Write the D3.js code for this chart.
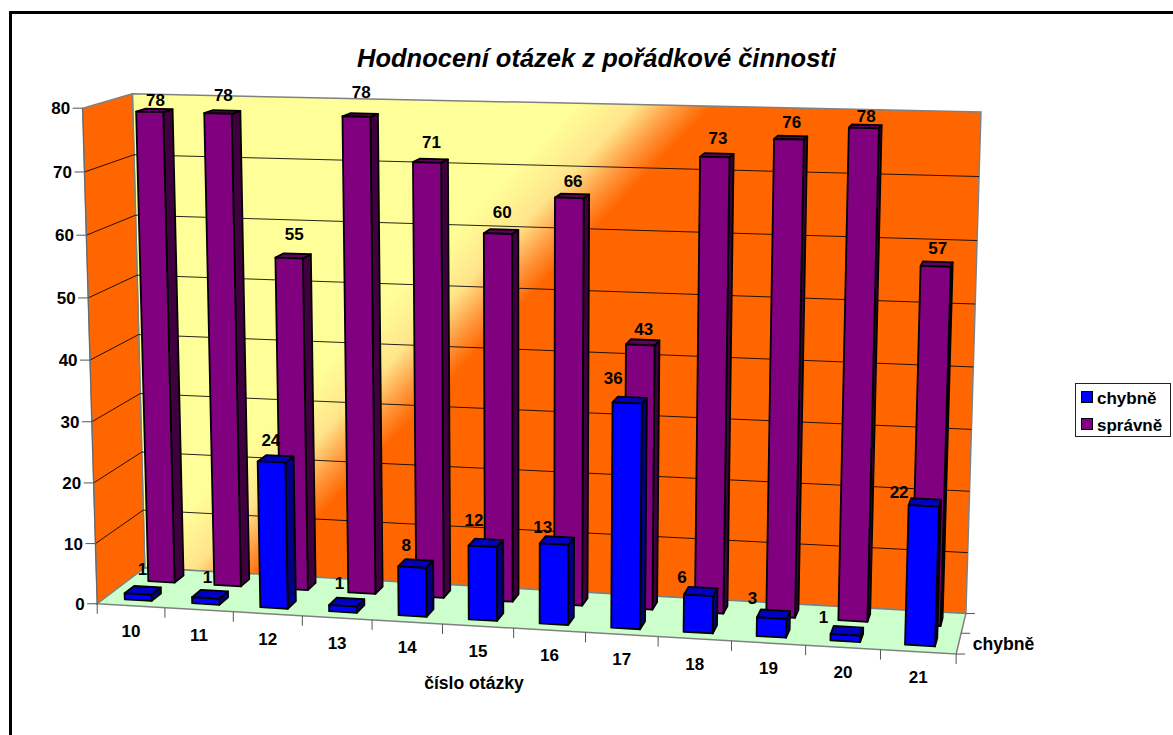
<!DOCTYPE html>
<html>
<head>
<meta charset="utf-8">
<script src="https://cdn.jsdelivr.net/npm/d3@7"></script>
<style>
  html, body { margin: 0; background: #fff; }
  svg { display: block; font-family: "Liberation Sans", Arial, sans-serif; font-weight: bold; }
</style>
</head>
<body>
<div id="chart"></div>
<script>
const categories = ["10", "11", "12", "13", "14", "15", "16", "17", "18", "19", "20", "21"];
const seriesNames = ["chybně", "správně"];
const chybne = [1, 1, 24, 1, 8, 12, 13, 36, 6, 3, 1, 22];
const spravne = [78, 78, 55, 78, 71, 60, 66, 43, 73, 76, 78, 57];
const valueTicks = [0, 10, 20, 30, 40, 50, 60, 70, 80];

// excel moves the data labels around a bit, vertical nudge per label
const nudgeChybne = [-4, 0, -2, -2, -2, -6, 4, -5, 3, 1, 3, 7];
const nudgeSpravne = [7, 0, -5, -6, -2, -3, 2, 4, 0, 1, 7, 1];

const width = 1173;
const height = 735;

// corners of the 3d box on screen: [u, v, w] -> [px, py]
const boxCorners = [
  [[0, 0, 0], [97, 603.5]],
  [[1, 0, 0], [956, 654.5]],
  [[0, 0, 1], [145, 568]],
  [[1, 0, 1], [966, 613]],
  [[0, 1, 0], [83, 108]],
  [[0, 1, 1], [132, 94]],
  [[1, 1, 1], [981, 112]]
];

function solve(A, b) {
  const n = b.length;
  const M = A.map((r, i) => [...r, b[i]]);
  for (let c = 0; c < n; c++) {
    let best = c;
    for (let r = c + 1; r < n; r++) if (Math.abs(M[r][c]) > Math.abs(M[best][c])) best = r;
    [M[c], M[best]] = [M[best], M[c]];
    for (let r = 0; r < n; r++) {
      if (r === c) continue;
      const f = M[r][c] / M[c][c];
      for (let k = c; k <= n; k++) M[r][k] -= f * M[c][k];
    }
  }
  return M.map((r, i) => r[n] / r[i]);
}

// least squares fit of the camera matrix
function fitCamera(pairs) {
  const rows = [], rhs = [];
  for (const [[u, v, w], [px, py]] of pairs) {
    rows.push([u, v, w, 1, 0, 0, 0, 0, -px * u, -px * v, -px * w]); rhs.push(px);
    rows.push([0, 0, 0, 0, u, v, w, 1, -py * u, -py * v, -py * w]); rhs.push(py);
  }
  const n = 11;
  const AtA = d3.range(n).map(i => d3.range(n).map(j => d3.sum(rows, r => r[i] * r[j])));
  const Atb = d3.range(n).map(i => d3.sum(rows, (r, k) => r[i] * rhs[k]));
  return solve(AtA, Atb);
}

const cam = fitCamera(boxCorners);
function project(u, v, w) {
  const d = cam[8] * u + cam[9] * v + cam[10] * w + 1;
  return [
    (cam[0] * u + cam[1] * v + cam[2] * w + cam[3]) / d,
    (cam[4] * u + cam[5] * v + cam[6] * w + cam[7]) / d
  ];
}

const x = d3.scaleBand().domain(categories).range([0, 1]).paddingInner(0.6).paddingOuter(0.3);
const z = d3.scaleBand().domain(seriesNames).range([0, 1]).paddingInner(0.6).paddingOuter(0.3);
const y = d3.scaleLinear().domain([0, 80]).range([0, 1]);

const face = pts => d3.line()(pts.map(p => project(...p))) + "Z";

const svg = d3.select("#chart").append("svg").attr("width", width).attr("height", height);

const defs = svg.append("defs");
const grad = defs.append("linearGradient").attr("id", "wallFill")
    .attr("gradientUnits", "userSpaceOnUse")
    .attr("x1", 570).attr("y1", 110).attr("x2", 642).attr("y2", 179);
grad.append("stop").attr("offset", 0).attr("stop-color", "#FFFF99");
grad.append("stop").attr("offset", 0.45).attr("stop-color", "#FFE58A");
grad.append("stop").attr("offset", 0.75).attr("stop-color", "#FF9A40");
grad.append("stop").attr("offset", 1).attr("stop-color", "#FF6600");

// outer frame, runs off the page on the right and bottom
svg.append("path")
    .attr("d", `M10.5,${height + 5}V12.5H${width + 5}`)
    .attr("fill", "none").attr("stroke", "#000").attr("stroke-width", 3);

svg.append("text")
    .attr("x", 596.5).attr("y", 67)
    .attr("text-anchor", "middle")
    .attr("font-size", 25.5).attr("font-style", "italic")
    .text("Hodnocení otázek z pořádkové činnosti");

// walls and floor
const walls = svg.append("g");
walls.append("path").attr("d", face([[0, 0, 1], [1, 0, 1], [1, 1, 1], [0, 1, 1]]))
    .attr("fill", "url(#wallFill)").attr("stroke", "#808080").attr("stroke-width", 1.5);
walls.append("path").attr("d", face([[0, 0, 0], [0, 0, 1], [0, 1, 1], [0, 1, 0]]))
    .attr("fill", "#FF6600").attr("stroke", "#808080").attr("stroke-width", 1.5);
walls.append("path").attr("d", face([[0, 0, 0], [1, 0, 0], [1, 0, 1], [0, 0, 1]]))
    .attr("fill", "#CCFFCC").attr("stroke", "#808080").attr("stroke-width", 1.5);

// gridlines on the walls
const grid = valueTicks.filter(t => t > 0 && t < 80);
walls.selectAll(".grid").data(grid).join("path")
    .attr("class", "grid")
    .attr("d", t => d3.line()([project(0, y(t), 0), project(0, y(t), 1), project(1, y(t), 1)]))
    .attr("fill", "none").attr("stroke", "#000").attr("stroke-opacity", 0.85).attr("stroke-width", 1);

// value axis
const axis = svg.append("g");
axis.append("path")
    .attr("d", d3.line()([project(0, 0, 0), project(0, 1, 0)]))
    .attr("stroke", "#666").attr("stroke-width", 1).attr("fill", "none");
valueTicks.forEach(t => {
  const [px, py] = project(0, y(t), 0);
  axis.append("line").attr("x1", px - 10).attr("x2", px).attr("y1", py).attr("y2", py)
      .attr("stroke", "#555").attr("stroke-width", 1);
  axis.append("text").attr("x", px - 12.5).attr("y", py + 6)
      .attr("text-anchor", "end").attr("font-size", 17).text(t);
});

// category axis
d3.range(categories.length + 1).forEach(i => {
  const [px, py] = project(i / categories.length, 0, 0);
  axis.append("line").attr("x1", px).attr("x2", px).attr("y1", py).attr("y2", py + 10)
      .attr("stroke", "#555").attr("stroke-width", 1);
});
categories.forEach(c => {
  const [px, py] = project(x(c) + x.bandwidth() / 2, 0, 0);
  axis.append("text").attr("x", px).attr("y", py + 31)
      .attr("text-anchor", "middle").attr("font-size", 17).text(c);
});
axis.append("text").attr("x", 474).attr("y", 689)
    .attr("text-anchor", "middle").attr("font-size", 17.6).text("číslo otázky");

// depth axis
[0, 0.5, 1].forEach(w => {
  const [px, py] = project(1, 0, w);
  axis.append("line").attr("x1", px).attr("x2", px + 9).attr("y1", py).attr("y2", py)
      .attr("stroke", "#555").attr("stroke-width", 1);
});
const [dx0, dy0] = project(1, 0, z(seriesNames[0]) + z.bandwidth() / 2);
axis.append("text").attr("x", dx0 + 14).attr("y", dy0 + 6)
    .attr("font-size", 17.6).text(seriesNames[0]);

// bars, back row first
const palette = {
  "chybně": { front: "#0000FF", top: "#0000C0", side: "#000080" },
  "správně": { front: "#800080", top: "#600060", side: "#400040" }
};

function drawBars(name, values, nudge, labelShift) {
  const g = svg.append("g");
  const colors = palette[name];
  const w0 = z(name), w1 = w0 + z.bandwidth();
  categories.forEach((c, i) => {
    const u0 = x(c), u1 = u0 + x.bandwidth(), h = y(values[i]);
    const bar = g.append("g").attr("stroke", "#000").attr("stroke-width", 1.8).attr("stroke-linejoin", "round");
    bar.append("path").attr("fill", colors.side)
        .attr("d", face([[u1, 0, w0], [u1, 0, w1], [u1, h, w1], [u1, h, w0]]));
    bar.append("path").attr("fill", colors.top)
        .attr("d", face([[u0, h, w0], [u1, h, w0], [u1, h, w1], [u0, h, w1]]));
    bar.append("path").attr("fill", colors.front)
        .attr("d", face([[u0, 0, w0], [u1, 0, w0], [u1, h, w0], [u0, h, w0]]));
  });
  return () => {
    categories.forEach((c, i) => {
      const uc = x(c) + x.bandwidth() / 2;
      const [px, py] = project(uc, y(values[i]), (w0 + w1) / 2);
      svg.append("text").attr("x", px + labelShift(uc)).attr("y", py - 11 + nudge[i])
          .attr("text-anchor", "middle").attr("font-size", 17).text(values[i]);
    });
  };
}

const labelsBack = drawBars("správně", spravne, nudgeSpravne, () => 1);
const labelsFront = drawBars("chybně", chybne, nudgeChybne, u => 1 - 28 * u);
labelsBack();
labelsFront();

// legend
const legend = svg.append("g");
legend.append("rect").attr("x", 1075.5).attr("y", 383.5).attr("width", 95).attr("height", 53)
    .attr("fill", "#fff").attr("stroke", "#222").attr("stroke-width", 1);
seriesNames.forEach((name, i) => {
  const ly = 398 + i * 27;
  legend.append("rect").attr("x", 1081.5).attr("y", ly - 6.5).attr("width", 11).attr("height", 11)
      .attr("fill", palette[name].front).attr("stroke", "#000");
  legend.append("text").attr("x", 1097).attr("y", ly + 6)
      .attr("font-size", 17).text(name);
});
</script>
</body>
</html>
